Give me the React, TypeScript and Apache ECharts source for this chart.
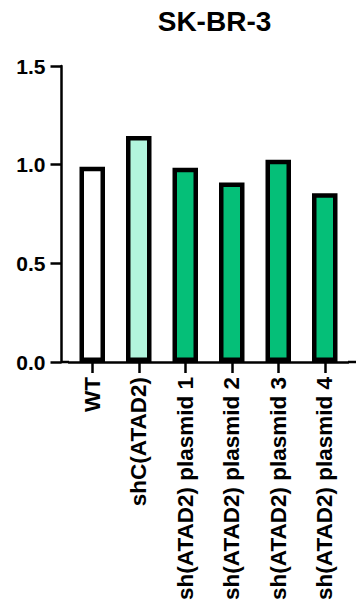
import React, { useEffect, useRef } from "react";
import * as echarts from "echarts";

const title = "SK-BR-3";
const categories = [
  "WT",
  "shC(ATAD2)",
  "sh(ATAD2) plasmid 1",
  "sh(ATAD2) plasmid 2",
  "sh(ATAD2) plasmid 3",
  "sh(ATAD2) plasmid 4",
];
const values = [0.99, 1.145, 0.985, 0.91, 1.025, 0.855];
const fillColors = ["#ffffff", "#b2f5dd", "#05bf78", "#05bf78", "#05bf78", "#05bf78"];
const yMin = 0;
const yMax = 1.5;
const yStep = 0.5;

const FONT = "'Liberation Sans', Arial, sans-serif";
const GRID_LEFT = 69;
const GRID_RIGHT = 8;
const GRID_TOP = 66;
const GRID_BOTTOM = 250;
const Y_AXIS_X = 61.5;
const W = 356;
const H = 612;

export default function App() {
  const ref = useRef<HTMLDivElement>(null);
  useEffect(() => {
    if (!ref.current) return;
    const chart = echarts.init(ref.current, null, { renderer: "svg" });
    const axisY = H - GRID_BOTTOM;
    chart.setOption({
      animation: false,
      backgroundColor: "#ffffff",
      title: {
        text: title,
        left: 209.5,
        textAlign: "center",
        top: 2,
        textStyle: { fontFamily: FONT, fontSize: 28, fontWeight: "bold", color: "#000" },
      },
      grid: { left: GRID_LEFT, right: GRID_RIGHT, top: GRID_TOP, bottom: GRID_BOTTOM, containLabel: false },
      xAxis: {
        type: "category",
        data: categories,
        axisLine: { show: true, lineStyle: { color: "#000", width: 2.5 } },
        axisTick: { show: true, alignWithLabel: true, length: 11, lineStyle: { color: "#000", width: 2.5 } },
        axisLabel: {
          interval: 0,
          rotate: 90,
          margin: 15,
          fontFamily: FONT,
          fontSize: 22.5,
          fontWeight: "bold",
          color: "#000",
        },
      },
      yAxis: {
        type: "value",
        min: yMin,
        max: yMax,
        interval: yStep,
        offset: GRID_LEFT - Y_AXIS_X,
        splitLine: { show: false },
        axisLine: { show: true, lineStyle: { color: "#000", width: 2.5 } },
        axisTick: { show: true, length: 11, lineStyle: { color: "#000", width: 2.5 } },
        axisLabel: {
          margin: 16,
          fontFamily: FONT,
          fontSize: 21,
          fontWeight: "bold",
          color: "#000",
          formatter: (v: number) => v.toFixed(1),
        },
      },
      graphic: [
        {
          type: "line",
          z: 1,
          shape: { x1: Y_AXIS_X, y1: axisY, x2: GRID_LEFT, y2: axisY },
          style: { stroke: "#000", lineWidth: 2.5 },
        },
        {
          type: "line",
          z: 1,
          shape: { x1: W - GRID_RIGHT, y1: axisY, x2: W, y2: axisY },
          style: { stroke: "#000", lineWidth: 2.5 },
        },
      ],
      series: [
        {
          type: "bar",
          barWidth: 25.5,
          data: values.map((v, i) => ({
            value: v,
            itemStyle: { color: fillColors[i] },
          })),
          itemStyle: { borderColor: "#000", borderWidth: 4.5 },
        },
      ],
    });
    return () => chart.dispose();
  }, []);
  return (
    <div
      ref={ref}
      style={{ position: "absolute", left: 0, top: 0, width: W, height: H }}
    />
  );
}
